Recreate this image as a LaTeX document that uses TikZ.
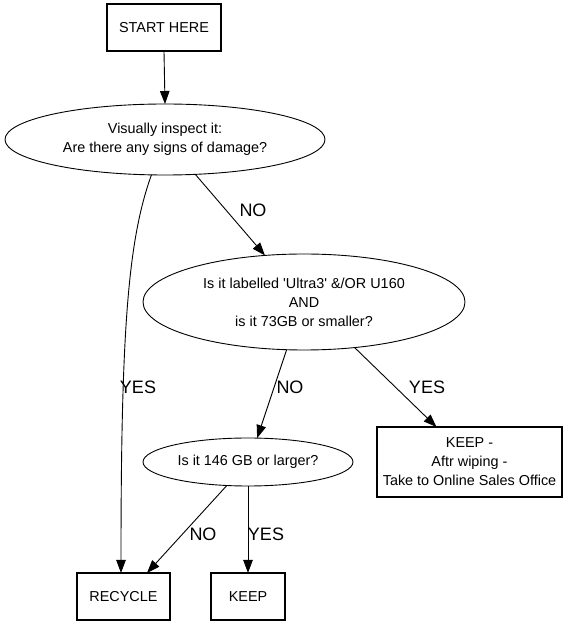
\documentclass[tikz,border=0pt]{standalone}
\usepackage{fontspec}
\setmainfont{Liberation Sans}[Ligatures=TeXOff]
\usetikzlibrary{shapes.geometric,arrows.meta}
\begin{document}
\begin{tikzpicture}[x=1pt,y=1pt,
  every node/.style={inner sep=0pt,outer sep=0pt},
  ntext/.style={font=\fontsize{14.4}{19}\selectfont,align=center},
  boxnode/.style={ntext,draw,line width=2pt,rectangle},
  ellnode/.style={ntext,draw,line width=0.9pt,ellipse},
  lbl/.style={font=\fontsize{18}{20}\selectfont},
  edge/.style={draw,line width=0.9pt,-{Triangle[length=13pt,width=9.5pt]}}
]
\useasboundingbox (0,0) rectangle (577,627);
\node[boxnode,minimum width=114pt,minimum height=47pt] (start) at (164,599) {START HERE};
\node[ellnode,minimum width=320pt,minimum height=71pt] (e1) at (165,487.5) {Visually inspect it:\\Are there any signs of damage?};
\node[ellnode,minimum width=322pt,minimum height=96pt] (e2) at (304,325) {Is it labelled 'Ultra3' \&/OR U160\\AND\\is it 73GB or smaller?};
\node[boxnode,minimum width=185pt,minimum height=70pt] (kw) at (469.5,165) {KEEP -\\Aftr wiping -\\Take to Online Sales Office};
\node[ellnode,minimum width=210pt,minimum height=48pt] (e3) at (248,165) {Is it 146 GB or larger?};
\node[boxnode,minimum width=93pt,minimum height=47pt] (rec) at (123.5,30.5) {RECYCLE};
\node[boxnode,minimum width=74pt,minimum height=47pt] (keep) at (248,30.5) {KEEP};

\path[edge] (start.south) -- (e1.north);
\path[edge] (e1.-111) .. controls (128,387) and (121,297) .. ([xshift=-2.5pt]rec.north);
\path[edge] (e1.-49) -- (e2.130.6);
\path[edge] (e2.-110.6) -- (e3.69.4);
\path[edge] (e2.-42) -- ([xshift=-33pt]kw.north);
\path[edge] (e3.-132.5) -- ([xshift=23.5pt]rec.north);
\path[edge] (e3.south) -- (keep.north);

\node[lbl] (l1) at (138,240) {YES};
\node[lbl] (l2) at (253,417) {NO};
\node[lbl] (l3) at (290,240) {NO};
\node[lbl] (l4) at (427,240) {YES};
\node[lbl] (l5) at (203,93) {NO};
\node[lbl] (l6) at (266,93) {YES};
\end{tikzpicture}
\end{document}
